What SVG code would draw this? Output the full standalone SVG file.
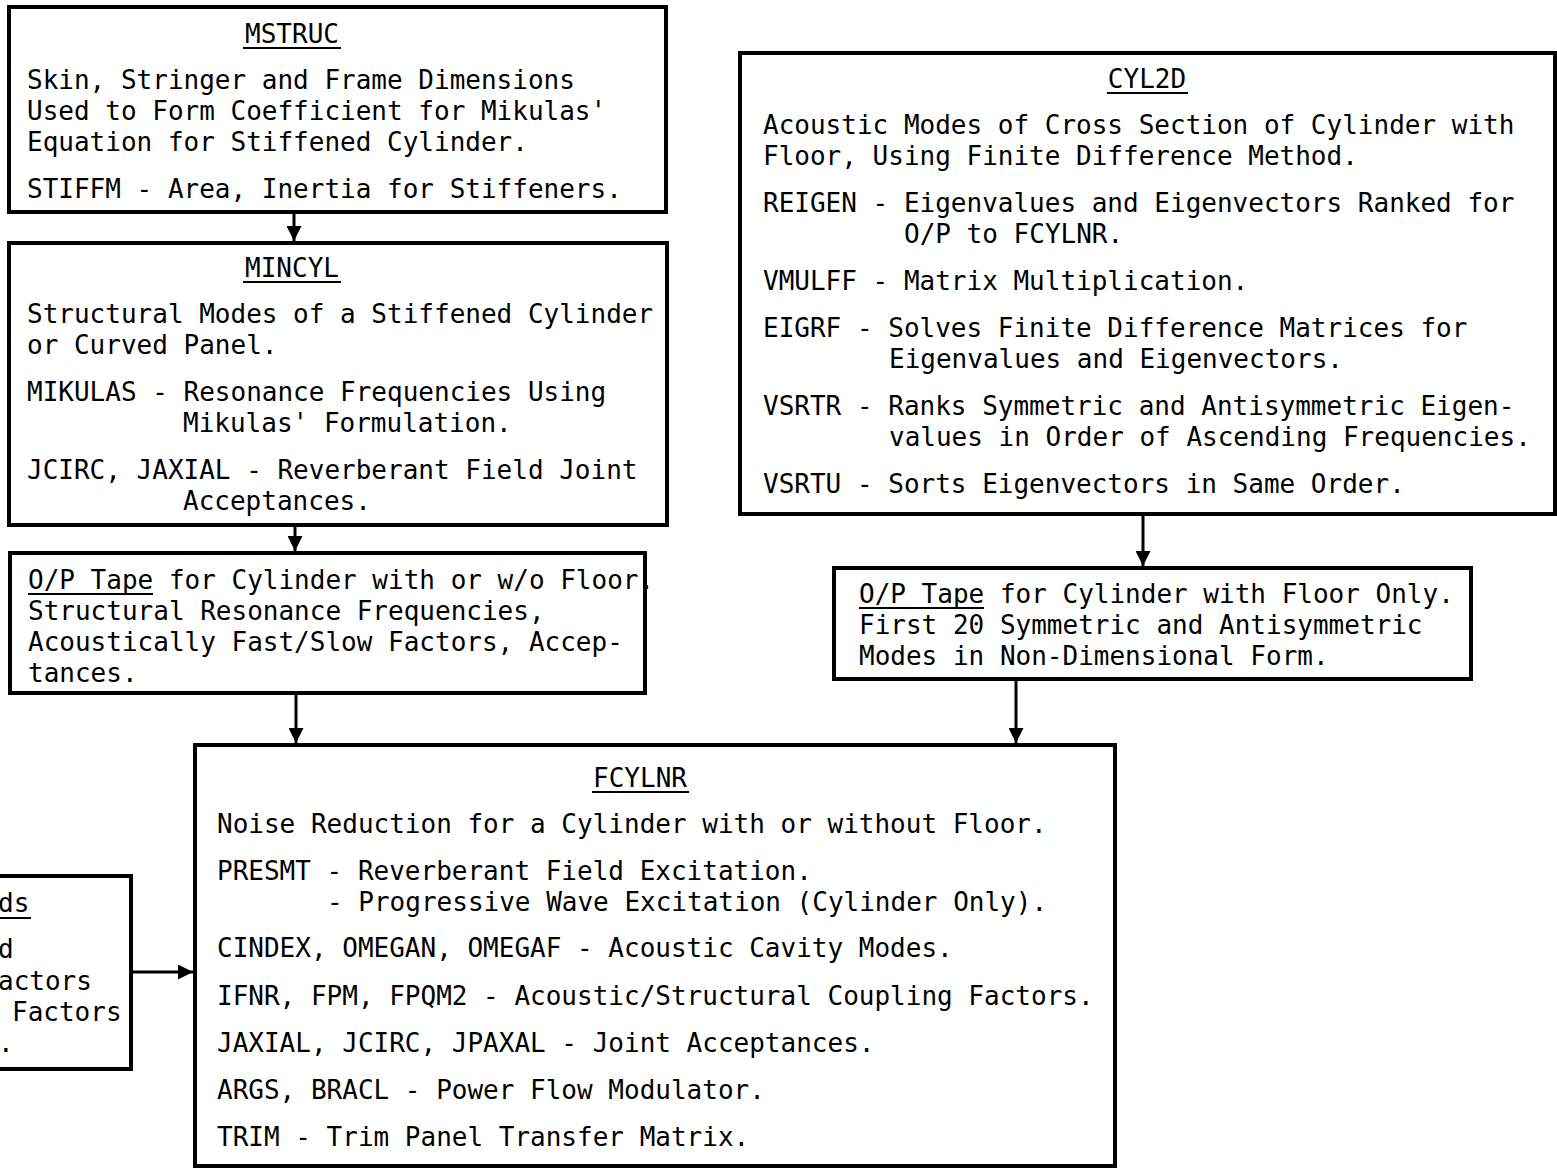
<svg xmlns="http://www.w3.org/2000/svg" width="1557" height="1169" viewBox="0 0 1557 1169">
<defs>
<marker id="ah" viewBox="0 0 10 10" refX="10" refY="5" markerWidth="5" markerHeight="5" markerUnits="strokeWidth" orient="auto">
<path d="M0,0 L10,5 L0,10 z" fill="#000"/>
</marker>
<style>
.box{fill:#fff;stroke:#000;stroke-width:4}
text{font-family:"DejaVu Sans Mono","Liberation Mono",monospace;font-size:26px;fill:#000;white-space:pre}
.t{text-anchor:middle}
.ul{stroke:#000;stroke-width:2}
.c{stroke:#000;stroke-width:3;fill:none;marker-end:url(#ah)}
</style>
</defs>
<rect width="1557" height="1169" fill="#fff"/>
<g id="connectors">
<line class="c" x1="294" y1="212" x2="294" y2="241"/>
<line class="c" x1="295" y1="525" x2="295" y2="551"/>
<line class="c" x1="296" y1="693" x2="296" y2="743"/>
<line class="c" x1="1143" y1="514" x2="1143" y2="566"/>
<line class="c" x1="1016" y1="679" x2="1016" y2="743"/>
<line class="c" x1="131" y1="972" x2="193" y2="972"/>
</g>
<g id="mstruc">
<rect class="box" x="9" y="7" width="657" height="205"/>
<text class="t" x="292" y="43">MSTRUC</text>
<line class="ul" x1="243" y1="48" x2="341" y2="48"/>
<text x="27" y="89">Skin, Stringer and Frame Dimensions</text>
<text x="27" y="120">Used to Form Coefficient for Mikulas'</text>
<text x="27" y="151">Equation for Stiffened Cylinder.</text>
<text x="27" y="198">STIFFM - Area, Inertia for Stiffeners.</text>
</g>
<g id="mincyl">
<rect class="box" x="9" y="243" width="658" height="282"/>
<text class="t" x="292" y="277">MINCYL</text>
<line class="ul" x1="243" y1="282" x2="341" y2="282"/>
<text x="27" y="323">Structural Modes of a Stiffened Cylinder</text>
<text x="27" y="354">or Curved Panel.</text>
<text x="27" y="401">MIKULAS - Resonance Frequencies Using</text>
<text x="183" y="432">Mikulas' Formulation.</text>
<text x="27" y="479">JCIRC, JAXIAL - Reverberant Field Joint</text>
<text x="183" y="510">Acceptances.</text>
</g>
<g id="optape1">
<rect class="box" x="10" y="553" width="635" height="140"/>
<text x="28" y="589">O/P Tape for Cylinder with or w/o Floor.</text>
<line class="ul" x1="28" y1="594" x2="153" y2="594"/>
<text x="28" y="620">Structural Resonance Frequencies,</text>
<text x="28" y="651">Acoustically Fast/Slow Factors, Accep-</text>
<text x="28" y="682">tances.</text>
</g>
<g id="cyl2d">
<rect class="box" x="740" y="53" width="815" height="461"/>
<text class="t" x="1147" y="88">CYL2D</text>
<line class="ul" x1="1107" y1="93" x2="1188" y2="93"/>
<text x="763" y="134">Acoustic Modes of Cross Section of Cylinder with</text>
<text x="763" y="165">Floor, Using Finite Difference Method.</text>
<text x="763" y="212">REIGEN - Eigenvalues and Eigenvectors Ranked for</text>
<text x="904" y="243">O/P to FCYLNR.</text>
<text x="763" y="290">VMULFF - Matrix Multiplication.</text>
<text x="763" y="337">EIGRF - Solves Finite Difference Matrices for</text>
<text x="889" y="368">Eigenvalues and Eigenvectors.</text>
<text x="763" y="415">VSRTR - Ranks Symmetric and Antisymmetric Eigen-</text>
<text x="889" y="446">values in Order of Ascending Frequencies.</text>
<text x="763" y="493">VSRTU - Sorts Eigenvectors in Same Order.</text>
</g>
<g id="optape2">
<rect class="box" x="834" y="568" width="637" height="111"/>
<text x="859" y="603">O/P Tape for Cylinder with Floor Only.</text>
<line class="ul" x1="859" y1="608" x2="984" y2="608"/>
<text x="859" y="634">First 20 Symmetric and Antisymmetric</text>
<text x="859" y="665">Modes in Non-Dimensional Form.</text>
</g>
<g id="fcylnr">
<rect class="box" x="195" y="745" width="920" height="421"/>
<text class="t" x="640" y="787">FCYLNR</text>
<line class="ul" x1="592" y1="792" x2="689" y2="792"/>
<text x="217" y="833">Noise Reduction for a Cylinder with or without Floor.</text>
<text x="217" y="880">PRESMT - Reverberant Field Excitation.</text>
<text x="327" y="911">- Progressive Wave Excitation (Cylinder Only).</text>
<text x="217" y="957">CINDEX, OMEGAN, OMEGAF - Acoustic Cavity Modes.</text>
<text x="217" y="1005">IFNR, FPM, FPQM2 - Acoustic/Structural Coupling Factors.</text>
<text x="217" y="1052">JAXIAL, JCIRC, JPAXAL - Joint Acceptances.</text>
<text x="217" y="1099">ARGS, BRACL - Power Flow Modulator.</text>
<text x="217" y="1146">TRIM - Trim Panel Transfer Matrix.</text>
</g>
<g id="leftbox">
<rect class="box" x="-20" y="876" width="151" height="193"/>
<text x="-2" y="912">ds</text>
<line class="ul" x1="0" y1="918" x2="31" y2="918"/>
<text x="-2" y="958">d</text>
<text x="-2" y="990">actors</text>
<text x="12" y="1021">Factors</text>
<text x="-2" y="1052">.</text>
</g>
</svg>
